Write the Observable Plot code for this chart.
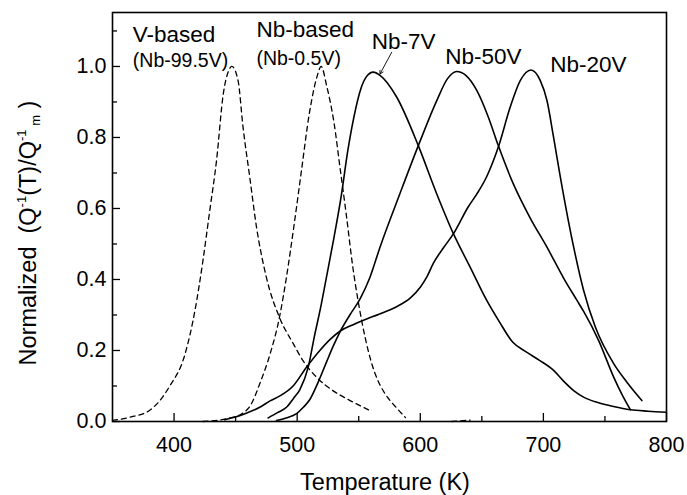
<!DOCTYPE html>
<html>
<head>
<meta charset="utf-8">
<script src="https://cdn.jsdelivr.net/npm/d3@7"></script>
<script src="https://cdn.jsdelivr.net/npm/@observablehq/plot@0.6"></script>
<style>
  html, body { margin: 0; padding: 0; background: #fff; }
  #chart { width: 687px; height: 495px; }
</style>
</head>
<body>
<div id="chart"></div>
<script>
// ---- Data (Temperature K, normalized Q^-1) ----
const vBasedT = [350, 364, 380, 396, 409, 417, 423.5, 429, 434.5, 440, 444, 447, 452, 456, 461.5, 467, 475, 486, 496.7, 505, 515.7, 529, 543, 559];
const vBasedQ = [0.003, 0.012, 0.031, 0.097, 0.191, 0.313, 0.454, 0.594, 0.735, 0.923, 0.985, 1.0, 0.96, 0.83, 0.688, 0.547, 0.406, 0.29, 0.22, 0.17, 0.125, 0.087, 0.059, 0.031];

const nbBasedT = [423.5, 442.5, 455, 462, 470, 478, 486, 491, 498, 503.5, 510, 516, 519.5, 524, 530, 535, 540, 545, 550, 555, 560, 565, 572, 579, 588];
const nbBasedQ = [0.0, 0.008, 0.022, 0.045, 0.11, 0.19, 0.3, 0.4, 0.566, 0.707, 0.87, 0.97, 1.0, 0.945, 0.84, 0.71, 0.58, 0.44, 0.33, 0.24, 0.17, 0.12, 0.075, 0.045, 0.011];

const tailT = [625.5, 640.5];
const tailQ = [0.0, 0.004];

const nb7T = [476.4, 484, 491.3, 497, 502.2, 509, 514, 519, 524, 530, 536, 541, 546, 552, 556, 561.8, 567.3, 580.8, 598.4, 613.4, 626.9, 640.5, 654, 664.4, 675, 686, 696.5, 708.3, 716, 724.6, 733, 743.6, 757, 770.7, 785, 800];
const nb7Q = [0.01, 0.025, 0.04, 0.065, 0.09, 0.153, 0.24, 0.32, 0.41, 0.52, 0.64, 0.76, 0.856, 0.94, 0.97, 0.984, 0.975, 0.914, 0.777, 0.641, 0.529, 0.435, 0.341, 0.28, 0.224, 0.196, 0.173, 0.144, 0.115, 0.087, 0.068, 0.054, 0.042, 0.033, 0.029, 0.026];

const nb50T = [483.2, 491, 499.5, 505, 510.3, 517.1, 523.9, 529, 534.7, 542.8, 551, 559, 567.3, 583.5, 598.4, 613.4, 622, 629.6, 637, 646, 655, 663.6, 675.5, 689.3, 702.9, 716.4, 727.3, 732.7, 744.9, 757.1, 764, 770.7];
const nb50Q = [0.003, 0.01, 0.022, 0.04, 0.062, 0.111, 0.168, 0.21, 0.252, 0.3, 0.345, 0.405, 0.491, 0.642, 0.777, 0.904, 0.965, 0.986, 0.975, 0.932, 0.86, 0.775, 0.67, 0.573, 0.491, 0.404, 0.341, 0.31, 0.228, 0.125, 0.075, 0.033];

const nb20T = [441.1, 456, 469.6, 478, 486, 496.7, 507.6, 518.4, 527, 535, 545, 556, 567, 580, 592, 600, 605, 611, 619, 627, 639, 646, 654, 663.6, 673, 681.2, 689.9, 697.5, 702.9, 708.3, 713.7, 724.6, 732.7, 742.2, 757.1, 768, 780];
const nb20Q = [0.005, 0.02, 0.04, 0.058, 0.072, 0.1, 0.153, 0.2, 0.232, 0.255, 0.272, 0.288, 0.303, 0.322, 0.348, 0.378, 0.405, 0.448, 0.49, 0.529, 0.605, 0.641, 0.69, 0.775, 0.885, 0.96, 0.99, 0.96, 0.904, 0.80, 0.69, 0.491, 0.369, 0.266, 0.163, 0.11, 0.059];

// tick values
const xMajor = [400, 500, 600, 700, 800];
const xMinor = [450, 550, 650, 750];
const yMajor = [0, 0.2, 0.4, 0.6, 0.8, 1.0];
const yMinor = [0.1, 0.3, 0.5, 0.7, 0.9, 1.1];

// annotation labels (anchor at left/baseline, in data units)
const mainLabels = ["V-based", "Nb-based", "Nb-7V", "Nb-50V", "Nb-20V"];
const mainLabelT = [366.5, 466.9, 560.5, 620.2, 705.6];
const mainLabelQ = [1.070, 1.082, 1.050, 1.008, 0.984];
const subLabels = ["(Nb-99.5V)", "(Nb-0.5V)"];
const subLabelT = [366.5, 466.9];
const subLabelQ = [0.998, 1.003];
// arrow from Nb-7V label to its peak
const arrowFrom = [576.8, 1.040];
const arrowTo = [567.3, 0.979];

// ---- build rows ----
const zip = (name, T, Q) => T.map((t, i) => ({series: name, T: t, Q: Q[i]}));
const dashed = [
  ...zip("V-based", vBasedT, vBasedQ),
  ...zip("Nb-based", nbBasedT, nbBasedQ),
  ...zip("tail", tailT, tailQ)
];
const solid = [
  ...zip("Nb-7V", nb7T, nb7Q),
  ...zip("Nb-50V", nb50T, nb50Q),
  ...zip("Nb-20V", nb20T, nb20Q)
];
const mainRows = mainLabels.map((s, i) => ({s, T: mainLabelT[i], Q: mainLabelQ[i]}));
const subRows = subLabels.map((s, i) => ({s, T: subLabelT[i], Q: subLabelQ[i]}));

const W = 687, H = 495;
const mL = 112, mR = 21, mT = 12, mB = 74;
const plotW = W - mL - mR, plotH = H - mT - mB;
const font = "'Liberation Sans', Arial, Helvetica, sans-serif";

const chart = Plot.plot({
  width: W,
  height: H,
  marginLeft: mL,
  marginRight: mR,
  marginTop: mT,
  marginBottom: mB,
  style: {fontFamily: font, fontSize: "21.5px", color: "black", background: "white", overflow: "visible"},
  x: {domain: [350, 800]},
  y: {domain: [0, 1.152]},
  marks: [
    // inward ticks
    Plot.ruleX(xMajor, {x: d => d, insetTop: plotH - 8, stroke: "black", strokeWidth: 1.3}),
    Plot.ruleX(xMinor, {x: d => d, insetTop: plotH - 5, stroke: "black", strokeWidth: 1.3}),
    Plot.ruleY(yMajor, {y: d => d, insetRight: plotW - 8, stroke: "black", strokeWidth: 1.3}),
    Plot.ruleY(yMinor, {y: d => d, insetRight: plotW - 5, stroke: "black", strokeWidth: 1.3}),
    Plot.axisX(xMajor, {tickSize: 0, tickPadding: 15, tickFormat: d => String(d), label: null, fontSize: 21.5}),
    Plot.axisY(yMajor, {tickSize: 0, tickPadding: 6, tickFormat: d3.format(".1f"), label: null, fontSize: 21.5}),
    // curves
    Plot.line(dashed, {x: "T", y: "Q", z: "series", stroke: "black", strokeWidth: 1.3, strokeDasharray: "5,4", curve: "monotone-x"}),
    Plot.line(solid, {x: "T", y: "Q", z: "series", stroke: "black", strokeWidth: 1.6, curve: "monotone-x"}),
    // annotations
    Plot.text(mainRows, {x: "T", y: "Q", text: "s", textAnchor: "start", lineAnchor: "bottom", fontSize: 22.5, fill: "black"}),
    Plot.text(subRows, {x: "T", y: "Q", text: "s", textAnchor: "start", lineAnchor: "bottom", fontSize: 19.5, fill: "black"}),
    Plot.arrow([{}], {x1: arrowFrom[0], y1: arrowFrom[1], x2: arrowTo[0], y2: arrowTo[1], stroke: "black", strokeWidth: 0.9, headLength: 6}),
    Plot.frame({stroke: "black", strokeWidth: 1.6})
  ]
});

document.getElementById("chart").appendChild(chart);

// axis titles (with super/subscripts in y title)
const svg = d3.select(chart);
svg.append("text")
  .attr("x", 385)
  .attr("y", 490)
  .attr("text-anchor", "middle")
  .attr("font-family", font)
  .attr("font-size", 23.5)
  .attr("fill", "black")
  .text("Temperature (K)");

const yt = svg.append("text")
  .attr("transform", "translate(36,233) rotate(-90)")
  .attr("text-anchor", "middle")
  .attr("font-family", font)
  .attr("font-size", 23.5)
  .attr("fill", "black");
yt.append("tspan").text("Normalized\u00a0\u00a0(Q");
yt.append("tspan").attr("font-size", 13).attr("dy", -10).text("-1");
yt.append("tspan").attr("dy", 10).text("(T)/Q");
yt.append("tspan").attr("font-size", 13).attr("dy", -10).text("-1");
yt.append("tspan").attr("font-size", 13).attr("dy", 14).text("\u00a0m");
yt.append("tspan").attr("dy", -4).text("\u00a0)");
</script>
</body>
</html>
